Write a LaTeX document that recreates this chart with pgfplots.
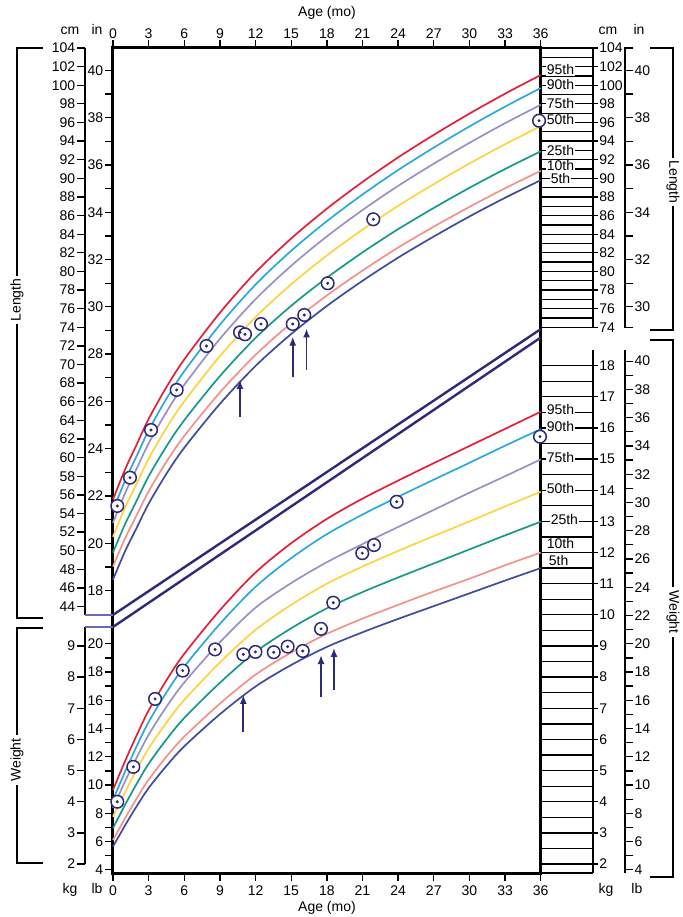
\documentclass[border=0pt]{standalone}
\usepackage{fontspec}
\setmainfont{Liberation Sans}
\usepackage{pgfplots}
\usepackage{pgfplotstable}
\pgfplotsset{compat=1.18}
\usetikzlibrary{arrows.meta}

\definecolor{p95}{HTML}{E41F3A}
\definecolor{p90}{HTML}{2BA8E0}
\definecolor{p75}{HTML}{9A90C8}
\definecolor{p50}{HTML}{FCD440}
\definecolor{p25}{HTML}{16998A}
\definecolor{p10}{HTML}{F4918A}
\definecolor{p05}{HTML}{3D4C9E}
\definecolor{ink}{HTML}{2D2A78}
\definecolor{band}{HTML}{6B6BB5}

% length percentiles (cm) by age (months)
\pgfplotstableread{
m    p5    p10   p25   p50   p75   p90   p95
0    46.90 48.30 49.80 51.50 53.00 54.30 55.50
1    49.90 51.28 52.82 54.59 56.14 57.48 58.69
2    52.48 53.83 55.40 57.23 58.84 60.20 61.43
3    55.05 56.38 57.99 59.88 61.53 62.93 64.16
4.5  58.27 59.56 61.22 63.19 64.90 66.33 67.58
6    61.06 62.33 64.02 66.05 67.82 69.28 70.55
9    65.78 67.00 68.76 70.90 72.76 74.28 75.56
12   69.85 71.04 72.86 75.09 77.02 78.59 79.90
15   73.28 74.44 76.31 78.62 80.61 82.22 83.54
18   76.29 77.41 79.32 81.71 83.76 85.40 86.74
21   78.99 80.09 82.04 84.49 86.59 88.26 89.61
24   81.48 82.56 84.54 87.04 89.19 90.89 92.25
27   83.75 84.81 86.82 89.38 91.57 93.30 94.67
30   85.90 86.93 88.98 91.59 93.81 95.57 96.95
33   87.91 88.93 91.00 93.66 95.92 97.70 99.09
36   89.80 90.80 92.90 95.60 97.90 99.70 101.10
}\lenpct

% weight percentiles (kg) by age (months)
\pgfplotstableread{
m    p5    p10   p25   p50   p75   p90   p95
0    2.56  2.77  3.15  3.52  3.80  4.06  4.38
1    3.23  3.46  3.89  4.30  4.64  4.95  5.29
2    3.86  4.11  4.58  5.03  5.42  5.79  6.14
3    4.44  4.71  5.22  5.71  6.15  6.56  6.93
4.5  5.15  5.45  6.00  6.54  7.05  7.51  7.90
6    5.78  6.09  6.69  7.27  7.83  8.34  8.75
9    6.81  7.15  7.82  8.47  9.12  9.71  10.15
12   7.70  8.08  8.81  9.52  10.23 10.90 11.36
15   8.39  8.79  9.57  10.32 11.02 11.82 12.30
18   8.97  9.39  10.21 11.00 11.69 12.59 13.08
21   9.44  9.88  10.73 11.55 12.27 13.22 13.73
24   9.87  10.32 11.20 12.05 12.82 13.79 14.31
27   10.28 10.75 11.65 12.53 13.37 14.34 14.87
30   10.69 11.16 12.10 13.00 13.92 14.88 15.42
33   11.10 11.59 12.55 13.48 14.45 15.43 15.97
36   11.50 12.00 12.99 13.95 14.99 15.96 16.52
}\wtpct

% the child's measurements
\pgfplotstableread{
m     cm
0.36  54.81
1.43  57.85
3.20  62.97
5.36  67.27
7.87  71.99
10.69 73.46
11.11 73.25
12.46 74.35
15.13 74.35
16.10 75.32
18.07 78.73
21.91 85.60
35.86 96.19
}\lenvisits

\pgfplotstableread{
m     kg
0.36  4.00
1.71  5.12
3.54  7.30
5.87  8.21
8.59  8.89
10.97 8.73
11.99 8.81
13.53 8.80
14.70 8.98
15.97 8.84
17.51 9.55
18.54 10.39
20.98 11.98
21.97 12.24
23.88 13.63
35.94 15.72
}\wtvisits

\pgfplotsset{
  curve/.style={smooth, line width=1.7pt},
  ruler/.style={black, line width=1.3pt, forget plot},
  arr/.style={ink, line width=1.8pt, -{Latex[length=9pt,width=7pt]}},
  wt/.style={y filter/.expression={9.655+3.3459*y}},
  lbf/.style={y filter/.expression={9.655+1.51768*y}},
  inf/.style={y filter/.expression={2.54*y}},
  ring/.style={only marks, mark=*, mark size=6.3pt,
    mark options={draw=ink, fill=white, line width=1.5pt}},
  pip/.style={only marks, mark=*, mark size=1.3pt, ink},
}
\tikzset{
  lab/.style={font=\fontsize{14}{16}\selectfont, inner sep=0.8pt},
  pl/.style={lab, anchor=west, fill=white, inner sep=0.6pt},
  side/.style={lab, fill=white, inner xsep=3pt, inner ysep=0.5pt},
}

\begin{document}
\begin{tikzpicture}
\useasboundingbox (-113pt,-44pt) rectangle (569pt,873pt);
\begin{axis}[
  at={(0pt,0pt)}, anchor=south west,
  scale only axis, width=427.7pt, height=825pt,
  xmin=0, xmax=36, ymin=15.3845, ymax=104,
  clip=false,
  axis line style={line width=3pt},
  xtick={0,3,...,36}, xticklabels={}, xtick pos=both,
  ytick=\empty,
  tick align=outside, major tick length=8pt,
  every tick/.style={black, line width=1.3pt},
]

% ---- rulers, left ----
\addplot[ruler] coordinates {(-2.357,104) (-2.357,43.10)};
\pgfplotsinvokeforeach{44,46,...,104}{
  \addplot[ruler] coordinates {(-3.03,#1) (-2.357,#1)};
}
\addplot[ruler] coordinates {(-2.357,41.81) (-2.357,16.35)};
\pgfplotsinvokeforeach{2,...,9}{
  \addplot[ruler,wt] coordinates {(-3.03,#1) (-2.357,#1)};
}
\pgfplotsinvokeforeach{18,...,40}{
  \addplot[ruler,inf] coordinates {(-0.673,#1) (0,#1)};
}
\pgfplotsinvokeforeach{4,...,20}{
  \addplot[ruler,lbf] coordinates {(-0.673,#1) (0,#1)};
}

% ---- rulers, right (length) ----
\pgfplotsinvokeforeach{74,...,104}{
  \addplot[ruler] coordinates {(36,#1) (40.40,#1)};
}
\pgfplotsinvokeforeach{74,76,...,104}{
  \addplot[ruler] coordinates {(40.40,#1) (40.82,#1)};
}
\addplot[ruler] coordinates {(40.40,104) (40.40,74)};
\addplot[ruler] coordinates {(43.77,104) (43.09,104) (43.09,74) (43.77,74)};
\pgfplotsinvokeforeach{30,...,40}{
  \addplot[ruler,inf] coordinates {(43.09,#1) (43.77,#1)};
}

% ---- rulers, right (weight) ----
\pgfplotsinvokeforeach{2,...,18}{
  \addplot[ruler,wt] coordinates {(36,#1) (40.82,#1)};
}
\pgfplotsinvokeforeach{2,...,17}{
  \addplot[ruler,wt] coordinates {(36,#1.5) (40.40,#1.5)};
}
\addplot[ruler] coordinates {(36,15.3845) (40.40,15.3845)};
\addplot[ruler] coordinates {(40.40,71.55) (40.40,15.3845)};
\addplot[ruler] coordinates {(43.09,71.55) (43.09,15.3845)};
\pgfplotsinvokeforeach{4,...,40}{
  \addplot[ruler,lbf] coordinates {(43.09,#1) (43.77,#1)};
}

% ---- brackets ----
\addplot[ruler] coordinates {(-5.89,104) (-8.08,104) (-8.08,42.77) (-5.89,42.77)};
\addplot[ruler] coordinates {(-5.89,41.70) (-8.08,41.70) (-8.08,16.46) (-5.89,16.46)};
\addplot[ruler] coordinates {(45.20,104) (47.13,104) (47.13,73.71) (45.20,73.71)};
\addplot[ruler] coordinates {(45.20,72.64) (47.13,72.64) (47.13,14.96) (45.20,14.96)};

% ---- separating band ----
\addplot[band, line width=2.6pt, forget plot] coordinates {(-2.357,43.10) (0,43.10)};
\addplot[band, line width=2.6pt, forget plot] coordinates {(-2.357,41.81) (0,41.81)};
\addplot[ink, line width=2.4pt] coordinates {(0,43.10) (36,73.80)};
\addplot[ink, line width=2.4pt] coordinates {(0,41.81) (36,72.90)};

% ---- length percentile curves ----
\addplot[curve,p05] table[x=m,y=p5]  {\lenpct};
\addplot[curve,p10] table[x=m,y=p10] {\lenpct};
\addplot[curve,p25] table[x=m,y=p25] {\lenpct};
\addplot[curve,p50] table[x=m,y=p50] {\lenpct};
\addplot[curve,p75] table[x=m,y=p75] {\lenpct};
\addplot[curve,p90] table[x=m,y=p90] {\lenpct};
\addplot[curve,p95] table[x=m,y=p95] {\lenpct};

% ---- weight percentile curves ----
\addplot[curve,p05] table[x=m,y expr=9.655+3.3459*\thisrow{p5}]  {\wtpct};
\addplot[curve,p10] table[x=m,y expr=9.655+3.3459*\thisrow{p10}] {\wtpct};
\addplot[curve,p25] table[x=m,y expr=9.655+3.3459*\thisrow{p25}] {\wtpct};
\addplot[curve,p50] table[x=m,y expr=9.655+3.3459*\thisrow{p50}] {\wtpct};
\addplot[curve,p75] table[x=m,y expr=9.655+3.3459*\thisrow{p75}] {\wtpct};
\addplot[curve,p90] table[x=m,y expr=9.655+3.3459*\thisrow{p90}] {\wtpct};
\addplot[curve,p95] table[x=m,y expr=9.655+3.3459*\thisrow{p95}] {\wtpct};

% ---- arrows ----
\addplot[arr] coordinates {(10.69,64.37) (10.69,68.34)};
\addplot[arr] coordinates {(15.13,68.66) (15.13,73.01)};
\addplot[arr] coordinates {(16.29,69.41) (16.29,73.87)};
\addplot[arr,wt] coordinates {(10.97,6.24) (10.97,7.43)};
\addplot[arr,wt] coordinates {(17.51,7.36) (17.51,8.71)};
\addplot[arr,wt] coordinates {(18.60,7.59) (18.60,8.94)};

% ---- scale labels ----
\pgfplotsinvokeforeach{44,46,...,104}{
  \node[lab, anchor=east] at (axis cs:-3.10,#1) {#1};
}
\pgfplotsinvokeforeach{2,...,9}{
  \node[lab, anchor=east] at (axis cs:-3.10,{9.655+3.3459*#1}) {#1};
}
\pgfplotsinvokeforeach{18,20,...,40}{
  \node[lab, anchor=east] at (axis cs:-0.74,{2.54*#1}) {#1};
}
\pgfplotsinvokeforeach{4,6,...,20}{
  \node[lab, anchor=east] at (axis cs:-0.74,{9.655+1.51768*#1}) {#1};
}
\pgfplotsinvokeforeach{74,76,...,104}{
  \node[lab, anchor=west] at (axis cs:40.85,#1) {#1};
}
\pgfplotsinvokeforeach{2,...,18}{
  \node[lab, anchor=west] at (axis cs:40.85,{9.655+3.3459*#1}) {#1};
}
\pgfplotsinvokeforeach{30,32,...,40}{
  \node[lab, anchor=west] at (axis cs:43.82,{2.54*#1}) {#1};
}
\pgfplotsinvokeforeach{4,6,...,40}{
  \node[lab, anchor=west] at (axis cs:43.82,{9.655+1.51768*#1}) {#1};
}
\pgfplotsinvokeforeach{0,3,...,36}{
  \node[lab, anchor=base] at (axis cs:#1,105.07) {#1};
  \node[lab, anchor=base] at (axis cs:#1,13.02) {#1};
}

% ---- percentile labels ----
\node[pl] at (axis cs:36.45,101.64) {95th};
\node[pl] at (axis cs:36.45,100.03) {90th};
\node[pl] at (axis cs:36.45,98.06) {75th};
\node[pl] at (axis cs:36.45,96.27) {50th};
\node[pl] at (axis cs:36.45,93.04) {25th};
\node[pl] at (axis cs:36.45,91.36) {10th};
\node[pl] at (axis cs:36.78,89.93) {5th};
\node[pl] at (axis cs:36.45,65.12) {95th};
\node[pl] at (axis cs:36.45,63.32) {90th};
\node[pl] at (axis cs:36.45,60.00) {75th};
\node[pl] at (axis cs:36.45,56.71) {50th};
\node[pl] at (axis cs:36.78,53.38) {25th};
\node[pl] at (axis cs:36.45,50.80) {10th};
\node[pl] at (axis cs:36.62,49.00) {5th};

% ---- measurements ----
\addplot[ring] table[x=m,y=cm] {\lenvisits};
\addplot[pip]  table[x=m,y=cm] {\lenvisits};
\addplot[ring] table[x=m,y expr=9.655+3.3459*\thisrow{kg}] {\wtvisits};
\addplot[pip]  table[x=m,y expr=9.655+3.3459*\thisrow{kg}] {\wtvisits};

% ---- unit and axis titles ----
\node[lab, anchor=base] at (axis cs:-3.62,105.40) {cm};
\node[lab, anchor=base] at (axis cs:-1.35,105.40) {in};
\node[lab, anchor=base] at (axis cs:41.66,105.40) {cm};
\node[lab, anchor=base] at (axis cs:44.27,105.40) {in};
\node[lab, anchor=base] at (axis cs:-3.62,13.13) {kg};
\node[lab, anchor=base] at (axis cs:-1.35,13.13) {lb};
\node[lab, anchor=base] at (axis cs:41.50,13.13) {kg};
\node[lab, anchor=base] at (axis cs:44.10,13.13) {lb};
\node[lab, anchor=base] at (axis cs:18.01,107.33) {Age (mo)};
\node[lab, anchor=base] at (axis cs:18.01,11.30) {Age (mo)};
\node[side, rotate=90] at (axis cs:-8.08,76.93) {Length};
\node[side, rotate=90] at (axis cs:-8.08,27.52) {Weight};
\node[side, rotate=-90] at (axis cs:47.13,89.60) {Length};
\node[side, rotate=-90] at (axis cs:47.13,43.42) {Weight};
\end{axis}
\end{tikzpicture}
\end{document}
